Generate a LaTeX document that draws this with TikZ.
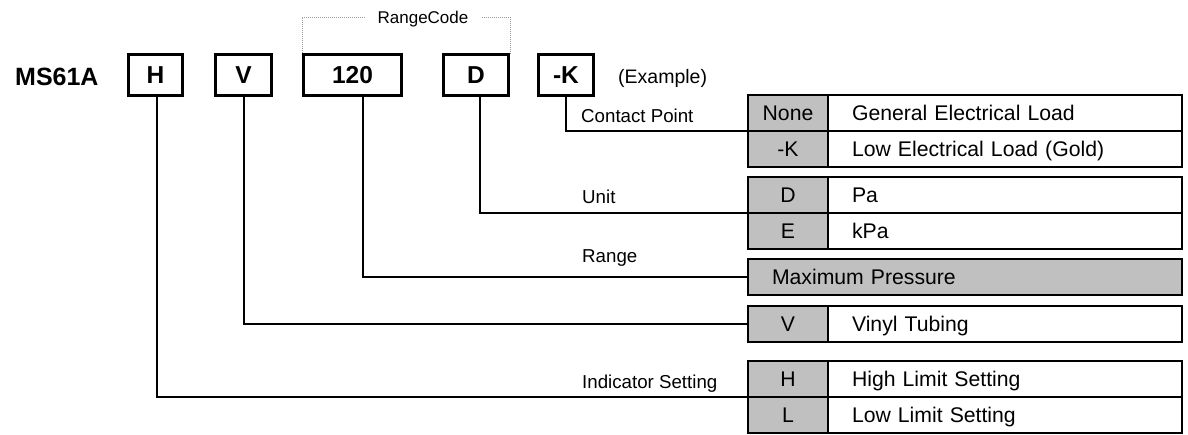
\documentclass[tikz,border=0pt]{standalone}
\usepackage{fontspec}
\setmainfont{Liberation Sans}
\definecolor{cellgray}{RGB}{192,192,192}
\begin{document}
\begin{tikzpicture}[x=1pt, y=-1pt,
  codebox/.style={draw, line width=3pt, minimum height=41pt, inner sep=0pt, font=\fontsize{24.5}{29}\selectfont\bfseries, text height=17.6pt, text depth=0pt},
  tcell/.style={draw, line width=2.2pt, minimum height=36pt, inner sep=0pt, outer sep=0pt, font=\fontsize{21.2}{25}\selectfont, text height=15.2pt, text depth=0pt},
  codecell/.style={tcell, fill=cellgray, minimum width=80pt},
  desccell/.style={tcell, minimum width=354pt, text width=306pt, align=left, inner xsep=24pt},
  lbl/.style={anchor=base west, inner sep=0pt, font=\fontsize{18.7}{22}\selectfont},
  conn/.style={line width=2pt},
  rng/.style={draw=gray!80, densely dotted, line width=1pt}]
\useasboundingbox (0,0) rectangle (1188,434);
\node[anchor=west, inner sep=0pt, font=\fontsize{25}{29}\selectfont\bfseries, text height=17.9pt, text depth=0pt] (ms) at (15,76.5) {MS61A};
\foreach \n/\t/\x/\w in {H/H/155.5/54, V/V/243.5/56, 120/120/352.5/98, D/D/476/65, K/-K/566/55}
  \node[codebox, minimum width=\w pt] (b\n) at (\x,75) {\t};
\node[anchor=west, inner sep=0pt, font=\fontsize{19.5}{23}\selectfont, text height=14pt, text depth=0pt] (ex) at (618,76) {(Example)};
\node[font=\fontsize{17}{20}\selectfont, inner xsep=13pt, inner ysep=0pt, text height=12.2pt, text depth=0pt] (rc) at (423,17) {RangeCode};
\draw[rng] (b120.north west) |- (rc.west);
\draw[rng] (rc.east) -| (bD.north east);
\foreach \n/\y/\c/\t in {None/113/None/General Electrical Load, K/149/-K/Low Electrical Load (Gold), D/195/D/Pa, E/231/E/kPa, V/324/V/Vinyl Tubing, H/379/H/High Limit Setting, L/415/L/Low Limit Setting}
  {\node[codecell] (c\n) at (788,\y) {\c}; \node[desccell] (d\n) at (1005,\y) {\t};}
\node[desccell, fill=cellgray, minimum width=434pt, text width=386pt] (cMax) at (965,277) {Maximum Pressure};
\node[lbl] (tK) at (581,122) {Contact Point};
\node[lbl] (tD) at (582,203) {Unit};
\node[lbl] (t120) at (582,262) {Range};
\node[lbl] (tH) at (582,388) {Indicator Setting};
\draw[conn] ([xshift=1.5pt]bH.south) |- (cH.south west);
\draw[conn] (bV.south) |- (cV.west);
\draw[conn] ([xshift=10.5pt]b120.south) |- (cMax.west);
\draw[conn] ([xshift=4pt]bD.south) |- (cD.south west);
\draw[conn] (bK.south) |- (cNone.south west);
\end{tikzpicture}
\end{document}
